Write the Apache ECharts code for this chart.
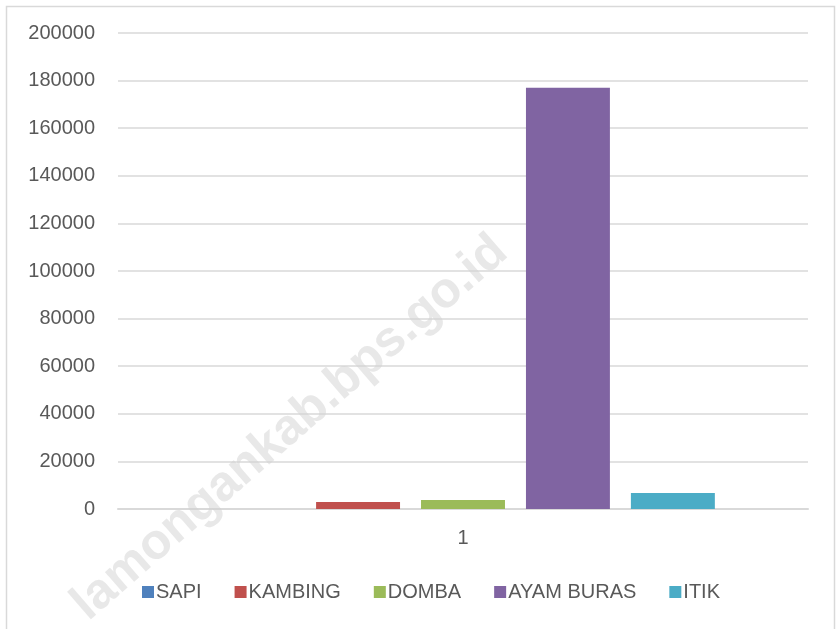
<!DOCTYPE html>
<html>
<head>
<meta charset="utf-8">
<script src="https://cdn.jsdelivr.net/npm/echarts@6/dist/echarts.min.js"></script>
<style>
  html, body { margin: 0; padding: 0; background: #fff; }
  #main { width: 837px; height: 629px; }
</style>
</head>
<body>
<div id="main"></div>
<script>
// data
var categories = ['1'];
var seriesNames = ['SAPI', 'KAMBING', 'DOMBA', 'AYAM BURAS', 'ITIK'];
var seriesValues = [0, 2900, 3800, 177000, 6700];
var seriesColors = ['#4f81bd', '#c0504d', '#9bbb59', '#8064a2', '#4bacc6'];

var fontName = '"Liberation Sans", sans-serif';

var myChart = echarts.init(document.getElementById('main'));

var series = [];
for (var i = 0; i < seriesNames.length; i++) {
    series.push({
        name: seriesNames[i],
        type: 'bar',
        barGap: '25%',
        barCategoryGap: '27%',
        itemStyle: { color: seriesColors[i] },
        data: [seriesValues[i]]
    });
}

var option = {
    animation: false,
    grid: { left: 118, right: 29, top: 33, bottom: 120 },
    legend: {
        bottom: 22,
        left: 137,
        itemWidth: 12,
        itemHeight: 12,
        itemGap: 33,
        icon: 'rect',
        textStyle: { fontFamily: fontName, fontSize: 20, color: '#595959', padding: [0, 0, 0, -3] },
        data: seriesNames
    },
    xAxis: {
        type: 'category',
        data: categories,
        axisLine: { lineStyle: { color: '#d9d9d9', width: 2 } },
        axisTick: { show: false },
        axisLabel: { fontFamily: fontName, fontSize: 20, color: '#595959', margin: 19 }
    },
    yAxis: {
        type: 'value',
        min: 0,
        max: 200000,
        interval: 20000,
        axisLine: { show: false },
        axisTick: { show: false },
        splitLine: { lineStyle: { color: '#d9d9d9', width: 1.5 } },
        axisLabel: {
            fontFamily: fontName, fontSize: 20, color: '#595959', margin: 23,
            formatter: function (v) { return String(v); }
        }
    },
    graphic: [
        {
            type: 'rect',
            left: 4, top: 4,
            shape: { width: 828, height: 640 },
            style: { fill: 'none', stroke: '#d9d9d9', lineWidth: 1.5 },
            silent: true
        },
        {
            type: 'text',
            x: 290, y: 428,
            rotation: Math.PI / 180 * 41,
            style: {
                text: 'lamongankab.bps.go.id',
                fontFamily: '"Liberation Sans", sans-serif',
                fontWeight: 'bold',
                fontSize: 50,
                fill: 'rgba(210,210,210,0.5)',
                align: 'center',
                verticalAlign: 'middle'
            },
            z: 100,
            silent: true
        }
    ],
    series: series
};
myChart.setOption(option);
</script>
</body>
</html>
